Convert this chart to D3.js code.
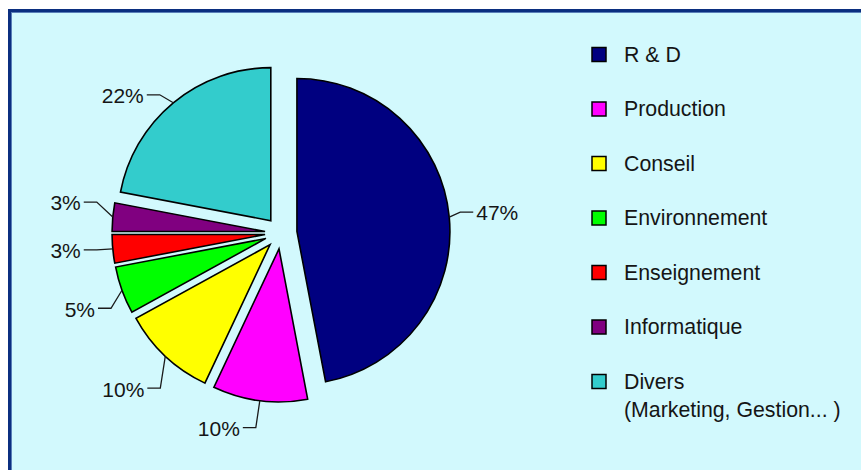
<!DOCTYPE html>
<html>
<head>
<meta charset="utf-8">
<script src="https://cdn.jsdelivr.net/npm/d3@7"></script>
<style>
  html, body { margin: 0; padding: 0; background: #ffffff; }
  svg { display: block; }
  text { font-family: "Liberation Sans", Arial, sans-serif; fill: #151515; }
</style>
</head>
<body>
<svg id="chart" width="861" height="470"></svg>
<script>
// ---- data ----
const categories = ["R & D", "Production", "Conseil", "Environnement", "Enseignement", "Informatique", "Divers"];
const legendLines = [["R & D"], ["Production"], ["Conseil"], ["Environnement"], ["Enseignement"], ["Informatique"], ["Divers", "(Marketing, Gestion... )"]];
const values = [47, 10, 10, 5, 3, 3, 22];
const colors = ["#000080", "#ff00ff", "#ffff00", "#00ff00", "#ff0000", "#800080", "#33cccc"];

// ---- layout ----
const W = 861, H = 470;
const cx = 281, cy = 233, R = 153, explode = 16;
// leader elbow offsets relative to slice edge point
const elbowOffsets = [[11, -5], [-4, 27], [-5, 32], [-11, 18], [-16, 1], [-16, -15], [-13.5, -8]];

const svg = d3.select("#chart");

// background panel with border (top & left visible)
svg.append("rect").attr("x", 0).attr("y", 0).attr("width", W).attr("height", H).attr("fill", "#ffffff");
svg.append("rect").attr("x", 8).attr("y", 9).attr("width", W).attr("height", H).attr("fill", "#0b2f80");
svg.append("rect").attr("x", 11).attr("y", 12).attr("width", W).attr("height", H).attr("fill", "#5a7fb8");
svg.append("rect").attr("x", 12).attr("y", 13).attr("width", W).attr("height", H).attr("fill", "#d2f9fd");

const total = d3.sum(values);
const pie = d3.pie().sort(null).value(d => d).startAngle(0).endAngle(2 * Math.PI);
const arcs = pie(values);
const arcGen = d3.arc().innerRadius(0).outerRadius(R);

const g = svg.append("g").attr("transform", `translate(${cx},${cy})`);

arcs.forEach((a, i) => {
  const mid = (a.startAngle + a.endAngle) / 2;
  const ox = explode * Math.sin(mid), oy = -explode * Math.cos(mid);
  g.append("path")
    .attr("d", arcGen(a))
    .attr("transform", `translate(${ox},${oy})`)
    .attr("fill", colors[i])
    .attr("stroke", "#000")
    .attr("stroke-width", 1.6)
    .attr("stroke-linejoin", "miter");

  // label leader
  const ex = ox + R * Math.sin(mid), ey = oy - R * Math.cos(mid);
  const [dx, dy] = elbowOffsets[i];
  const bx = ex + dx, by = ey + dy;
  const side = Math.sin(mid) > 0 ? 1 : -1;
  const hx = bx + side * 13;
  g.append("path")
    .attr("d", `M${ex},${ey}L${bx},${by}L${hx},${by}`)
    .attr("fill", "none")
    .attr("stroke", "#1a1a1a")
    .attr("stroke-width", 1.3);
  g.append("text")
    .attr("x", hx + side * 3)
    .attr("y", by + 1)
    .attr("dy", "0.35em")
    .attr("text-anchor", side > 0 ? "start" : "end")
    .style("font-size", "21px")
    .text(Math.round(values[i] / total * 100) + "%");
});

// legend
const legendY = d3.scalePoint().domain(categories).range([54.5, 381.5]);
const leg = svg.append("g");
categories.forEach((c, i) => {
  const y = legendY(c);
  leg.append("rect")
    .attr("x", 592).attr("y", y - 7)
    .attr("width", 14).attr("height", 14)
    .attr("fill", colors[i])
    .attr("stroke", "#000").attr("stroke-width", 1.5);
  legendLines[i].forEach((line, k) => {
    leg.append("text")
      .attr("x", 624).attr("y", y + k * 28.5)
      .attr("dy", "0.35em")
      .style("font-size", "21.3px")
      .text(line);
  });
});
</script>
</body>
</html>
